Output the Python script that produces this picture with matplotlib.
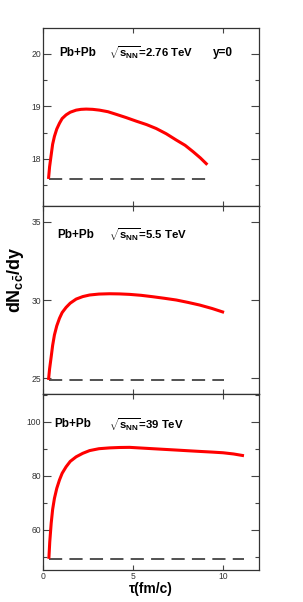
import matplotlib
matplotlib.use('Agg')
import matplotlib.pyplot as plt

plt.rcParams['font.family'] = ['Liberation Sans', 'DejaVu Sans']
plt.rcParams['mathtext.fontset'] = 'custom'
plt.rcParams['mathtext.rm'] = 'Liberation Sans:bold'
plt.rcParams['mathtext.it'] = 'Liberation Sans:bold'
plt.rcParams['mathtext.bf'] = 'Liberation Sans:bold'
plt.rcParams['mathtext.sf'] = 'Liberation Sans:bold'
plt.rcParams['lines.scale_dashes'] = False

# data
tau_276 = [0.29, 0.35, 0.44, 0.52, 0.62, 0.75, 0.90, 1.05, 1.27, 1.50, 1.83, 2.10, 2.39,
           2.75, 3.13, 3.60, 4.06, 4.60, 5.18, 5.75, 6.29, 6.85, 7.41, 7.90, 8.34, 8.75, 9.14]
n_276 = [17.62, 17.85, 18.08, 18.28, 18.43, 18.57, 18.68, 18.77, 18.84, 18.89, 18.93, 18.945,
         18.95, 18.945, 18.93, 18.90, 18.85, 18.79, 18.72, 18.655, 18.58, 18.48, 18.36, 18.26,
         18.14, 18.02, 17.89]
tau_55 = [0.29, 0.35, 0.44, 0.52, 0.62, 0.75, 0.90, 1.05, 1.27, 1.50, 1.83, 2.20, 2.58,
          3.10, 3.69, 4.25, 4.81, 5.45, 6.10, 6.75, 7.41, 8.05, 8.71, 9.40, 10.07]
n_55 = [24.90, 25.60, 26.38, 27.10, 27.77, 28.35, 28.83, 29.20, 29.53, 29.80, 30.06, 30.22,
        30.32, 30.38, 30.40, 30.39, 30.36, 30.30, 30.21, 30.11, 30.00, 29.85, 29.68, 29.46,
        29.21]
tau_39 = [0.31, 0.36, 0.44, 0.52, 0.62, 0.75, 0.90, 1.05, 1.27, 1.50, 1.83, 2.20, 2.58,
          3.10, 3.69, 4.25, 4.81, 5.45, 6.10, 6.75, 7.41, 8.05, 8.71, 9.40, 10.01, 10.60, 11.18]
n_39 = [49.2, 55.5, 62.4, 67.5, 71.6, 75.3, 78.4, 80.9, 83.3, 85.3, 87.0, 88.3, 89.3,
        90.0, 90.3, 90.45, 90.5, 90.25, 90.0, 89.75, 89.5, 89.25, 89.0, 88.75, 88.5, 88.05,
        87.4]

base_276 = 17.61
base_55 = 24.87
base_39 = 49.15

energies = ['2.76', '5.5', '39']
ylims = [(17.11, 20.5), (24.02, 36.02), (45.07, 110.4)]
yticks = [[18, 19, 20], [25, 30, 35], [60, 80, 100]]
yminor = [[17.5, 18.5, 19.5], [], [50, 70, 90, 110]]
xticks = [0, 5, 10]

fig = plt.figure(figsize=(3.03, 6.02), dpi=100)
left, width = 0.1429, 0.7109
boxes = [(0.6583, 0.2957), (0.3460, 0.3123), (0.0532, 0.2929)]
text_y = [0.858, 0.844, 0.826]
pb_x = [0.073, 0.067, 0.051]

curves = [(tau_276, n_276, base_276), (tau_55, n_55, base_55), (tau_39, n_39, base_39)]

for i, (bottom, height) in enumerate(boxes):
    ax = fig.add_axes([left, bottom, width, height])
    tau, n, base = curves[i]
    ax.plot([tau[0], tau[-1]], [base, base], color='#222222', lw=1.1,
            dashes=(9.5, 5.2))
    ax.plot(tau, n, color='red', lw=2.2, solid_capstyle='butt', solid_joinstyle='round')
    ax.set_xlim(0, 12)
    ax.set_ylim(*ylims[i])
    ax.set_xticks(xticks)
    ax.set_yticks(yticks[i])
    ax.set_yticks(yminor[i], minor=True)
    ax.tick_params(axis='both', which='both', direction='in', top=True, right=True,
                   colors='#444444', labelcolor='#333333', labelsize=6.2, pad=1.5,
                   width=0.8)
    ax.tick_params(axis='y', which='major', length=5.8)
    ax.tick_params(axis='y', which='minor', length=3.0)
    ax.tick_params(axis='x', which='major', length=3.5)
    for s in ax.spines.values():
        s.set_color('#333333')
        s.set_linewidth(0.9)
    if i < 2:
        ax.tick_params(axis='x', labelbottom=False)
    ax.text(pb_x[i], text_y[i], 'Pb+Pb', transform=ax.transAxes, fontsize=8.5,
            fontweight='bold', va='center')
    ax.text(0.305, text_y[i], r'$\sqrt{s_{NN}}$=' + energies[i] + ' TeV',
            transform=ax.transAxes, fontsize=8.2, fontweight='bold', va='center')
    if i == 0:
        ax.text(0.788, text_y[i], 'y=0', transform=ax.transAxes, fontsize=8.5,
                fontweight='bold', va='center')
    if i == 2:
        ax.set_xlabel('τ(fm/c)', fontsize=10, fontweight='bold', labelpad=1)

fig.text(0.052, 0.535, r'$dN_{c\bar{c}}/dy$', rotation=90, fontsize=13,
         ha='center', va='center')

fig.savefig('out.png', dpi=100)
